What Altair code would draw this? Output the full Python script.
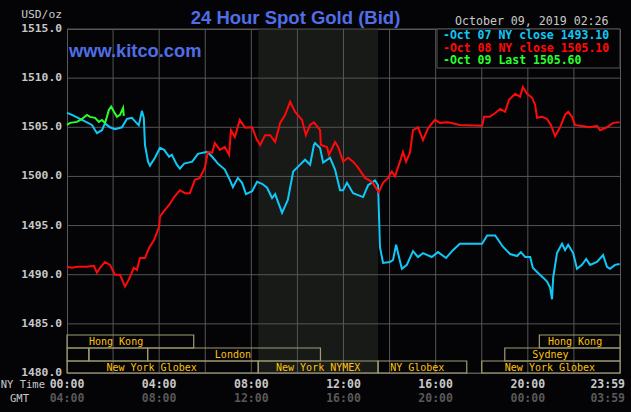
import altair as alt
import pandas as pd

# ---------------- data ----------------
# minutes after 00:00 NY time, price USD/oz
oct07_min = [0,13,39,65,78,91,99,112,125,143,156,169,182,187,195,200,203,211,216,229,242,253,266,273,286,294,305,326,341,365,378,393,411,424,432,445,456,466,482,495,508,521,534,542,560,575,589,607,620,633,643,646,659,667,685,698,711,719,729,745,771,784,802,810,815,823,841,849,857,862,872,885,901,914,927,950,966,987,1005,1023,1081,1094,1115,1135,1154,1172,1182,1193,1206,1213,1226,1240,1250,1258,1263,1266,1276,1289,1297,1305,1318,1328,1341,1352,1362,1380,1396,1406,1414,1427,1439]
oct07_px = [1506.46,1506.26,1505.75,1505.24,1504.4,1504.7,1505.4,1505.0,1504.8,1505.0,1505.85,1505.96,1505.4,1505.2,1506.67,1505.96,1503.2,1501.5,1501.1,1501.9,1502.9,1502.7,1502.0,1502.2,1501.2,1500.8,1501.3,1501.5,1502.3,1502.5,1502.0,1501.3,1500.7,1499.65,1498.9,1499.85,1499.35,1498.2,1498.5,1499.45,1499.25,1498.85,1497.8,1498.2,1496.3,1497.6,1500.5,1501.2,1501.7,1501.2,1503.2,1503.4,1502.9,1501.4,1501.9,1500.7,1498.6,1498.6,1499.35,1498.3,1497.9,1499.1,1499.6,1499.1,1492.8,1491.2,1491.3,1491.5,1493.05,1492.2,1490.6,1491.0,1492.4,1491.8,1492.2,1491.8,1492.3,1491.7,1492.5,1493.15,1493.15,1494.0,1494.0,1492.85,1492.1,1491.9,1492.3,1491.8,1491.8,1490.7,1490.2,1489.7,1489.3,1488.7,1487.5,1489.7,1492.2,1493.15,1492.5,1493.05,1492.2,1490.6,1491.0,1491.6,1491.0,1491.3,1492.0,1490.8,1490.6,1491.0,1491.1]

oct08_min = [0,13,26,52,70,78,86,99,112,125,138,151,161,174,182,190,203,214,227,240,242,255,266,279,294,307,320,333,346,359,367,378,385,398,411,422,427,437,450,464,482,495,503,516,529,542,555,568,581,594,612,622,633,643,659,661,677,682,698,706,719,732,745,758,776,794,812,823,836,846,854,867,875,883,893,901,914,927,940,958,971,992,1023,1081,1086,1101,1115,1128,1141,1151,1167,1180,1187,1198,1211,1219,1224,1237,1250,1260,1271,1284,1297,1305,1315,1323,1336,1362,1380,1388,1406,1422,1439]
oct08_px = [1490.8,1490.7,1490.8,1490.8,1490.9,1490.2,1490.7,1491.3,1491.0,1490.0,1490.0,1488.8,1489.5,1490.7,1490.5,1491.7,1491.7,1492.75,1493.55,1494.9,1495.9,1496.6,1497.1,1497.9,1498.6,1498.3,1498.3,1499.65,1499.85,1500.9,1502.5,1502.4,1503.4,1502.7,1503.0,1502.2,1504.7,1504.0,1505.75,1504.95,1505.0,1503.7,1503.2,1504.2,1504.2,1503.5,1505.45,1506.26,1507.6,1506.57,1505.75,1504.2,1505.24,1505.5,1504.7,1503.2,1503.0,1502.2,1503.5,1503.0,1501.5,1501.9,1501.5,1500.9,1499.85,1499.45,1498.4,1499.35,1499.85,1500.5,1500.0,1501.5,1502.5,1501.5,1502.4,1504.7,1505.0,1503.7,1504.9,1505.75,1505.45,1505.5,1505.24,1505.15,1506.06,1506.06,1506.46,1506.87,1506.57,1507.8,1508.4,1508.1,1509.1,1508.4,1508.0,1507.3,1505.96,1506.06,1505.85,1505.24,1504.1,1505.0,1506.26,1506.57,1506.06,1505.24,1505.15,1505.0,1505.15,1504.7,1505.0,1505.45,1505.5]

oct09_min = [0,8,26,39,52,60,73,83,91,99,104,109,115,122,130,138,146,148]
oct09_px = [1505.24,1505.45,1505.55,1505.85,1506.26,1506.06,1505.96,1505.55,1505.75,1505.45,1506.06,1506.77,1507.1,1506.6,1506.06,1506.26,1506.97,1506.16]

legend_lines = ["-Oct 07 NY close 1493.10", "-Oct 08 NY close 1505.10", "-Oct 09 Last 1505.60"]
series_colors = ["#10c8f8", "#ff0a0a", "#2aff2a"]

y_ticks = [1480, 1485, 1490, 1495, 1500, 1505, 1510, 1515]
y_tick_labels = ["1480.0", "1485.0", "1490.0", "1495.0", "1500.0", "1505.0", "1510.0", "1515.0"]
x_grid_hours = [2, 4, 6, 8, 10, 12, 14, 16, 18, 20, 22]
time_hours = [0, 4, 8, 12, 16, 20]
ny_labels = ["00:00", "04:00", "08:00", "12:00", "16:00", "20:00"]
gmt_labels = ["04:00", "08:00", "12:00", "16:00", "20:00", "00:00"]

nymex_start, nymex_end = 8.3, 13.5

sess_label = ["Hong Kong", "", "", "London", "New York Globex", "New York NYMEX", "NY Globex", "New York Globex", "Sydney", "Hong Kong"]
sess_start = [0, 0, 0.95, 3.5, 0, 8.3, 13.5, 18, 19, 20.5]
sess_end = [5.5, 0.95, 3.5, 11, 8.3, 13.5, 17.35, 24, 24, 24]
sess_row = [1, 2, 2, 2, 3, 3, 3, 3, 2, 1]
sess_text_at = [2.13, 0, 0, 7.2, 3.67, 10.9, 15.2, 20.96, 20.98, 22.05]

# ---------------- build ----------------
W, H = 553, 344
BG = "#040406"
GRID = "#555555"
MONO = "DejaVu Sans Mono"

xs = alt.Scale(domain=[0, 24], nice=False, zero=False)
ys = alt.Scale(domain=[1480, 1515], nice=False, zero=False)

def series_df(mins, px):
    return pd.DataFrame({"h": [m / 60 for m in mins], "price": px})

one = pd.DataFrame({"a": [0]})

shade = alt.Chart(pd.DataFrame({"s": [nymex_start], "e": [nymex_end]})).mark_rect(color="#181a18").encode(
    x=alt.X("s:Q", scale=xs, axis=None), x2="e:Q", y=alt.value(0), y2=alt.value(H))

vgrid = alt.Chart(pd.DataFrame({"h": x_grid_hours})).mark_rule(color=GRID, strokeWidth=1).encode(
    x=alt.X("h:Q", scale=xs, axis=None))

ydf = pd.DataFrame({"p": y_ticks, "lab": y_tick_labels})
hgrid = alt.Chart(ydf).mark_rule(color=GRID, strokeWidth=1).encode(
    y=alt.Y("p:Q", scale=ys, axis=None))
ylabels = alt.Chart(ydf).mark_text(font=MONO, fontSize=11.3, fontWeight="bold", color="#c8c8c8",
                                   align="right", baseline="middle").encode(
    y=alt.Y("p:Q", scale=ys, axis=None), x=alt.value(-5), text="lab:N")

sess = pd.DataFrame({"label": sess_label, "s": sess_start, "e": sess_end, "row": sess_row, "t": sess_text_at})
row_px = {1: (306, 319), 2: (319, 332), 3: (332, 344)}
sess_layers = []
for r, (top, bot) in row_px.items():
    base = alt.Chart(sess).transform_filter(alt.datum.row == r)
    sess_layers.append(base.mark_rect(fillOpacity=0, stroke="#a09c70", strokeWidth=1.2).encode(
        x=alt.X("s:Q", scale=xs, axis=None), x2="e:Q", y=alt.value(top), y2=alt.value(bot)))
    sess_layers.append(base.transform_filter(alt.datum.label != "").mark_text(
        font=MONO, fontSize=10, color="#ffc20e", baseline="middle", align="center").encode(
        x=alt.X("t:Q", scale=xs, axis=None), y=alt.value((top + bot) / 2 + 0.5), text="label:N"))

lines = []
for mins, px, col in [(oct07_min, oct07_px, series_colors[0]),
                      (oct08_min, oct08_px, series_colors[1]),
                      (oct09_min, oct09_px, series_colors[2])]:
    lines.append(alt.Chart(series_df(mins, px)).mark_line(color=col, strokeWidth=2).encode(
        x=alt.X("h:Q", scale=xs, axis=None), y=alt.Y("price:Q", scale=ys, axis=None)))

legend_box = alt.Chart(one).mark_rect(fill=BG, stroke=GRID, strokeWidth=1).encode(
    x=alt.value(370), x2=alt.value(W), y=alt.value(0), y2=alt.value(39))
legend_texts = []
for i, (txt, col) in enumerate(zip(legend_lines, series_colors)):
    legend_texts.append(alt.Chart(one).mark_text(font=MONO, fontSize=11.5, fontWeight="bold", color=col,
                                                 align="left", baseline="middle").encode(
        x=alt.value(376), y=alt.value(7 + i * 12.5), text=alt.value(txt)))

tdf = pd.DataFrame({"h": time_hours, "ny": ny_labels, "gmt": gmt_labels})
ny_txt = alt.Chart(tdf).mark_text(font=MONO, fontSize=11.5, fontWeight="bold", color="#c8c8c8",
                                  baseline="middle").encode(
    x=alt.X("h:Q", scale=xs, axis=None), y=alt.value(356), text="ny:N")
gmt_txt = alt.Chart(tdf).mark_text(font=MONO, fontSize=11.5, fontWeight="bold", color="#585858",
                                   baseline="middle").encode(
    x=alt.X("h:Q", scale=xs, axis=None), y=alt.value(370), text="gmt:N")
end_ny = alt.Chart(one).mark_text(font=MONO, fontSize=11.5, fontWeight="bold", color="#c8c8c8",
                                  baseline="middle", align="right").encode(
    x=alt.value(W + 5), y=alt.value(356), text=alt.value("23:59"))
end_gmt = alt.Chart(one).mark_text(font=MONO, fontSize=11.5, fontWeight="bold", color="#585858",
                                   baseline="middle", align="right").encode(
    x=alt.value(W + 5), y=alt.value(370), text=alt.value("03:59"))
ny_lab = alt.Chart(one).mark_text(font=MONO, fontSize=10.5, color="#c8c8c8", baseline="middle", align="right").encode(
    x=alt.value(-22), y=alt.value(356), text=alt.value("NY Time"))
gmt_lab = alt.Chart(one).mark_text(font=MONO, fontSize=10.5, color="#c8c8c8", baseline="middle", align="right").encode(
    x=alt.value(-38), y=alt.value(370), text=alt.value("GMT"))

usd = alt.Chart(one).mark_text(font=MONO, fontSize=11.3, color="#c8c8c8", baseline="middle", align="right").encode(
    x=alt.value(-5), y=alt.value(-14), text=alt.value("USD/oz"))
title = alt.Chart(one).mark_text(font="Liberation Sans", fontSize=18.5, fontWeight="bold", color="#506ee8",
                                 baseline="alphabetic", align="center").encode(
    x=alt.value(228.5), y=alt.value(-5), text=alt.value("24 Hour Spot Gold (Bid)"))
kitco = alt.Chart(one).mark_text(font="Liberation Sans", fontSize=18.3, fontWeight="bold", color="#506ee8",
                                 baseline="alphabetic", align="left").encode(
    x=alt.value(2), y=alt.value(28), text=alt.value("www.kitco.com"))
date = alt.Chart(one).mark_text(font=MONO, fontSize=11.6, color="#c8c8c8", baseline="middle", align="left").encode(
    x=alt.value(388), y=alt.value(-7), text=alt.value("October 09, 2019 02:26"))

chart = alt.layer(
    shade, vgrid, hgrid, ylabels, *sess_layers, *lines, legend_box, *legend_texts,
    ny_txt, gmt_txt, end_ny, end_gmt, ny_lab, gmt_lab, usd, title, kitco, date
).properties(
    width=W, height=H, autosize="none",
    padding={"left": 67, "top": 29, "right": 11, "bottom": 39},
    background=BG,
).configure_view(stroke="#5a5a5a", strokeWidth=1, fill=BG)

chart.save("out.html", embed_options={"renderer": "svg", "actions": False})
